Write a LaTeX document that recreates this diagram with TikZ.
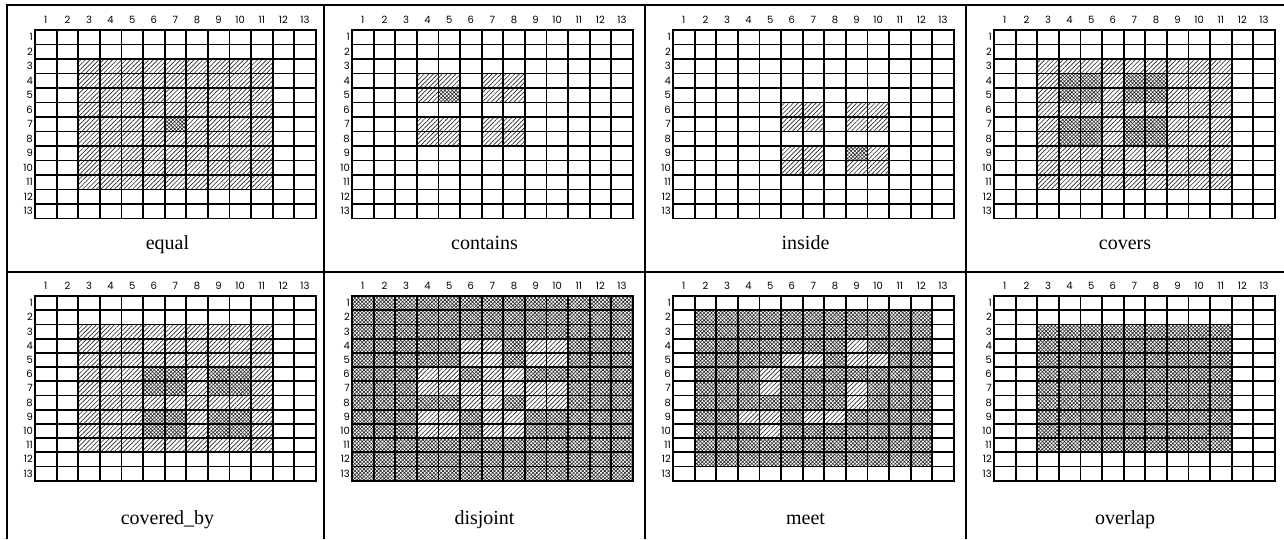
\documentclass[tikz,border=0pt]{standalone}
\usepackage{fontspec}
\setmainfont{Liberation Serif}
\newfontfamily\numfont{Poppins}
\usetikzlibrary{patterns.meta}
\tikzset{
  gridline/.style={line width=1.8pt, line cap=rect},
  hatchA/.style={pattern={Lines[angle=45,distance=3.2pt,line width=0.65pt]}, pattern color=black!85},
  hatchX/.style={pattern={Hatch[angle=45,distance=2.6pt,line width=0.6pt]}, pattern color=black!85},
  numlab/.style={font=\numfont\fontsize{10}{11}\selectfont, inner sep=0pt},
  panellab/.style={font=\fontsize{20}{22}\selectfont, inner sep=0pt, anchor=base},
  frame/.style={line width=1.3pt},
}
% #1 L, #2 T, #3 cell height, #4 style, #5 rows, #6 cols
\newcommand\cellblock[6]{%
  \foreach \r in {#5}{\foreach \c in {#6}{%
    \fill[white] ({#1+(\c-1)*21.6},{#2+(\r-1)*#3}) rectangle ++(21.6,#3);
    \fill[#4] ({#1+(\c-1)*21.6},{#2+(\r-1)*#3}) rectangle ++(21.6,#3);}}}
% #1 L, #2 T, #3 cell height, #4 panel id
\newcommand\gridbox[4]{%
  \foreach \i in {0,...,13}{\draw[gridline] ({#1+\i*21.6},#2) -- ++(0,{13*#3});}
  \foreach \j in {0,...,13}{\draw[gridline] (#1,{#2+\j*#3}) -- ++(280.8,0);}
  \foreach \c in {1,...,13}{\node[numlab] (#4col\c) at ({#1+(\c-0.5)*21.6},{#2-10}) {\c};}
  \foreach \r in {1,...,13}{\node[numlab,anchor=east] (#4row\r) at ({#1-2},{#2+(\r-0.5)*#3}) {\r};}}
\begin{document}
\begin{tikzpicture}[x=1pt,y=-1pt]
\useasboundingbox (0,0) rectangle (1284,539);
\fill[white] (0,0) rectangle (1284,539);
% ---------- top row (T=30, h=14.5)
% equal
\cellblock{35}{30}{14.5}{hatchA}{3,...,11}{3,...,11}
\cellblock{35}{30}{14.5}{hatchX}{7}{7}
\gridbox{35}{30}{14.5}{a}
% contains
\cellblock{352}{30}{14.5}{hatchA}{4,5,7,8}{4,5,7,8}
\cellblock{352}{30}{14.5}{hatchX}{5}{5}
\gridbox{352}{30}{14.5}{b}
% inside
\cellblock{673}{30}{14.5}{hatchA}{6,7,9,10}{6,7,9,10}
\cellblock{673}{30}{14.5}{hatchX}{9}{9}
\gridbox{673}{30}{14.5}{c}
% covers
\cellblock{994}{30}{14.5}{hatchA}{3,...,11}{3,...,11}
\cellblock{994}{30}{14.5}{hatchX}{4,5,7,8}{4,5,7,8}
\gridbox{994}{30}{14.5}{d}
% ---------- bottom row (T=296, h=14.2)
% covered_by
\cellblock{35}{296}{14.2}{hatchA}{3,...,11}{3,...,11}
\cellblock{35}{296}{14.2}{hatchX}{6,7,9,10}{6,7,9,10}
\gridbox{35}{296}{14.2}{e}
% disjoint
\cellblock{352}{296}{14.2}{hatchX}{1,...,13}{1,...,13}
\cellblock{352}{296}{14.2}{hatchA}{4,5,7,8}{6,7,9,10}
\cellblock{352}{296}{14.2}{hatchA}{6,7,9,10}{4,5,7,8}
\gridbox{352}{296}{14.2}{f}
% meet
\cellblock{673}{296}{14.2}{hatchX}{2,...,12}{2,...,12}
\cellblock{673}{296}{14.2}{hatchA}{4,7,8}{9}
\cellblock{673}{296}{14.2}{hatchA}{5}{6,7,9,10}
\cellblock{673}{296}{14.2}{hatchA}{6,7,10}{5}
\cellblock{673}{296}{14.2}{hatchA}{9}{4,5,7,8}
\gridbox{673}{296}{14.2}{g}
% overlap
\cellblock{994}{296}{14.2}{hatchX}{3,...,11}{3,...,11}
\gridbox{994}{296}{14.2}{h}
% ---------- panel labels
\node[panellab] (lab1) at (167.5,249) {equal};
\node[panellab] (lab2) at (484.5,249) {contains};
\node[panellab] (lab3) at (805.5,249) {inside};
\node[panellab] (lab4) at (1125,249) {covers};
\node[panellab] (lab5) at (167.5,524) {covered\_by};
\node[panellab] (lab6) at (484.5,524) {disjoint};
\node[panellab] (lab7) at (805.5,524) {meet};
\node[panellab] (lab8) at (1125,524) {overlap};
% ---------- frame
\draw[frame] (7,539) -- (7,5) -- (1284,5);
\draw[frame] (7,272) -- (1284,272);
\foreach \x in {324,645,966}{\draw[frame] (\x,5) -- (\x,539);}
\end{tikzpicture}
\end{document}
